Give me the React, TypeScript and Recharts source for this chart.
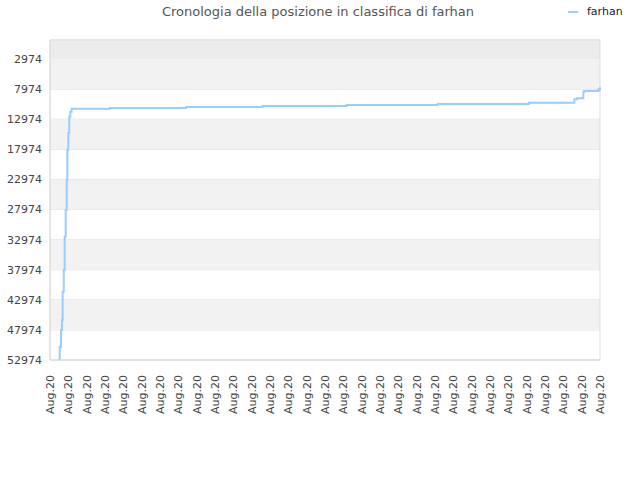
import React from 'react';
import { LineChart, Line, XAxis, YAxis, CartesianGrid, ReferenceArea } from 'recharts';

// day of August 2020 (fractional) where each rank level starts
const days = [
  1.45, 1.53, 1.6, 1.655, 1.69, 1.75, 1.8, 1.855, 1.91, 1.945, 2.0, 2.05, 2.11, 2.18,
  4.27, 8.42, 12.6, 17.18, 22.15, 27.13, 29.6, 29.75, 30.09, 30.13, 30.93, 31,
];
const ranks = [
  52900, 50811, 47987, 46326, 41625, 38021, 32490, 28055, 23072, 18089, 15265, 12558, 11727, 11246,
  11113, 10947, 10781, 10615, 10432, 10249, 9668, 9502, 8455, 8289, 8007, 7675,
];
const yTicks = [2974, 7974, 12974, 17974, 22974, 27974, 32974, 37974, 42974, 47974, 52974];
const xTicks = Array.from({ length: 31 }, (_, i) => i + 1);
const xLabel = 'Aug.20';
const seriesName = 'farhan';
const title = 'Cronologia della posizione in classifica di farhan';

const data = days.map((d, i) => ({ day: d, rank: ranks[i] }));
const yMin = -182;
const yMax = 52974;

const XTick = (props: any) => {
  const { x, y } = props;
  return (
    <text
      x={x}
      y={y}
      transform={`rotate(-90, ${x}, ${y})`}
      textAnchor="end"
      dx={-7}
      dy={4}
      fontSize={11}
      fill="#444"
      fontFamily="DejaVu Sans, sans-serif"
    >
      {xLabel}
    </text>
  );
};

const App: React.FC = () => {
  return (
    <div style={{ position: 'absolute', left: 0, top: 0, width: 640, height: 480, background: '#fff', fontFamily: 'DejaVu Sans, sans-serif' }}>
      <div style={{ position: 'absolute', top: 4, left: 0, width: 636, textAlign: 'center', fontSize: 13, color: '#555' }}>
        {title}
      </div>
      <div style={{ position: 'absolute', top: 5, left: 568, display: 'flex', alignItems: 'center', fontSize: 11, color: '#222' }}>
        <span style={{ display: 'inline-block', width: 10, height: 2, background: '#99ccff', marginRight: 9 }} />
        {seriesName}
      </div>
      <LineChart width={640} height={480} data={data} margin={{ top: 40, right: 40, left: 0, bottom: 0 }}>
        <ReferenceArea y1={yMin} y2={2974} fill="#ececec" fillOpacity={1} stroke="none" />
        {yTicks.slice(0, -1).map((t, i) =>
          i % 2 === 0 ? (
            <ReferenceArea key={t} y1={t} y2={yTicks[i + 1]} fill="#f2f2f2" fillOpacity={1} stroke="none" />
          ) : null
        )}
        <CartesianGrid vertical={false} stroke="#e0e0e0" />
        <ReferenceArea y1={yMin} y2={yMax} fill="none" stroke="#dddddd" strokeWidth={1} />
        <XAxis
          dataKey="day"
          type="number"
          domain={[1, 31]}
          ticks={xTicks}
          interval={0}
          height={120}
          stroke="#dddddd"
          tickLine={false}
          tick={<XTick />}
        />
        <YAxis
          type="number"
          reversed
          domain={[yMin, yMax]}
          ticks={yTicks}
          interval={0}
          width={50}
          stroke="#dddddd"
          tickLine={false}
          tick={{ fontSize: 11, fill: '#444', fontFamily: 'DejaVu Sans, sans-serif' }}
          allowDataOverflow
        />
        <Line
          type="stepAfter"
          dataKey="rank"
          stroke="#99ccff"
          strokeWidth={2}
          dot={false}
          isAnimationActive={false}
        />
      </LineChart>
    </div>
  );
};

export default App;
